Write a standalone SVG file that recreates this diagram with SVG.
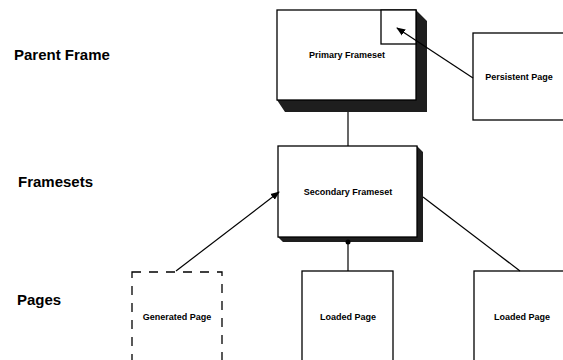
<svg xmlns="http://www.w3.org/2000/svg" width="563" height="360" viewBox="0 0 563 360">
<style>
.lbl{font-family:"Liberation Sans",Arial,sans-serif;font-weight:bold;font-size:15px;fill:#000}
.nt{font-family:"Liberation Sans",Arial,sans-serif;font-weight:bold;font-size:9px;fill:#000;text-anchor:middle}
.box{fill:#fff;stroke:#000;stroke-width:1.3}
.dash{fill:none;stroke:#000;stroke-width:1.3;stroke-dasharray:9,8}
.sh{fill:#1e1e1e}
.ln{fill:none;stroke:#000;stroke-width:1.2}
</style>
<defs>
<marker id="ah" viewBox="0 0 10 10" refX="9" refY="5" markerWidth="9" markerHeight="9" orient="auto" markerUnits="userSpaceOnUse">
<path d="M0,1 L10,5 L0,9 Z" fill="#000"/>
</marker>
</defs>
<rect width="563" height="360" fill="#fff"/>
<text class="lbl" x="14" y="60">Parent Frame</text>
<text class="lbl" x="18" y="187">Framesets</text>
<text class="lbl" x="17" y="305">Pages</text>
<g id="primary-frameset">
<polygon class="sh" points="416,10 427,21 427,112 285,112 277,100 416,100"/>
<rect class="box" x="277" y="10" width="139" height="90"/>
<rect class="box" x="381" y="10" width="35" height="34"/>
<text class="nt" x="347" y="58" font-size="8.5">Primary Frameset</text>
</g>
<g id="persistent-page">
<rect class="box" x="473" y="33" width="100" height="87"/>
<text class="nt" x="519" y="80">Persistent Page</text>
</g>
<g id="secondary-frameset">
<polygon class="sh" points="417,146 423,152 423,242 283,242 278,237 417,237"/>
<rect class="box" x="278" y="146" width="139" height="91"/>
<text class="nt" x="348" y="195">Secondary Frameset</text>
</g>
<g id="generated-page">
<rect class="dash" x="132" y="272" width="90" height="100"/>
<text class="nt" x="177" y="320">Generated Page</text>
</g>
<g id="loaded-page-1">
<rect class="box" x="302" y="271" width="91" height="100"/>
<text class="nt" x="348" y="320">Loaded Page</text>
</g>
<g id="loaded-page-2">
<rect class="box" x="474" y="271" width="100" height="100"/>
<text class="nt" x="522" y="320">Loaded Page</text>
</g>
<g id="connectors">
<line class="ln" x1="348" y1="112" x2="348" y2="146"/>
<line class="ln" x1="348" y1="242" x2="348" y2="271"/>
<circle cx="348" cy="242" r="2.5" fill="#000"/>
<line class="ln" x1="473" y1="78" x2="397" y2="28" marker-end="url(#ah)"/>
<line class="ln" x1="176" y1="271" x2="279" y2="192" marker-end="url(#ah)"/>
<line class="ln" x1="423" y1="197" x2="520" y2="271"/>
</g>
</svg>
